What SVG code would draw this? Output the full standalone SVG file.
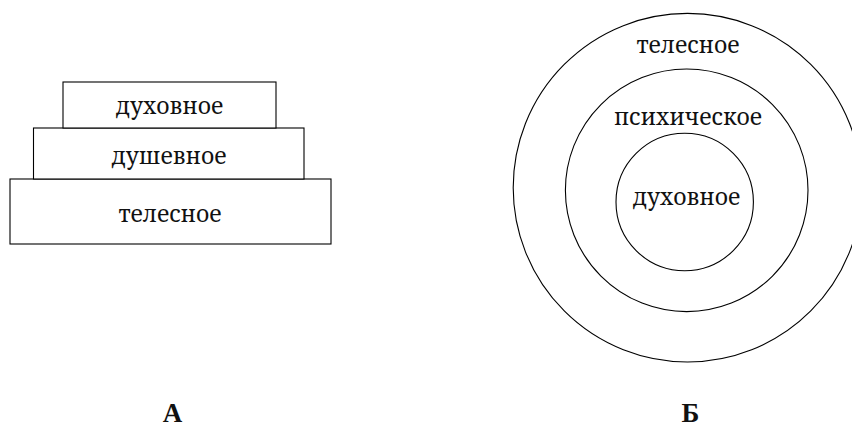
<svg xmlns="http://www.w3.org/2000/svg" width="852" height="428" viewBox="0 0 852 428">
<style>
.s{fill:#fff;stroke:#000;stroke-width:1.1}
.c{fill:none;stroke:#000;stroke-width:1.1}
.t{font-family:"Noto Serif","Liberation Serif",serif;font-size:23px;fill:#111;text-anchor:middle}
.l{font-family:"Liberation Serif","Times New Roman",serif;font-size:27px;font-weight:bold;fill:#111;text-anchor:middle}
</style>
<rect width="852" height="428" fill="#fff"/>
<g id="A">
<g id="a-tel"><rect class="s" x="10" y="179" width="321" height="65"/><text class="t" x="170" y="221.5">телесное</text></g>
<g id="a-dush"><rect class="s" x="33.5" y="128" width="270.5" height="51"/><text class="t" x="169" y="164">душевное</text></g>
<g id="a-duh"><rect class="s" x="63" y="82" width="213" height="46"/><text class="t" x="169.5" y="114">духовное</text></g>
<text class="l" x="172.5" y="422">А</text>
</g>
<g id="B">
<g id="b-tel"><circle class="c" cx="687.5" cy="187.7" r="174.3"/><text class="t" x="688" y="53">телесное</text></g>
<g id="b-psy"><circle class="c" cx="686.7" cy="190.3" r="121.3"/><text class="t" x="688" y="125">психическое</text></g>
<g id="b-duh"><circle class="c" cx="684.7" cy="202" r="68.7"/><text class="t" x="686.5" y="205">духовное</text></g>
<text class="l" x="690.5" y="422">Б</text>
</g>
</svg>
